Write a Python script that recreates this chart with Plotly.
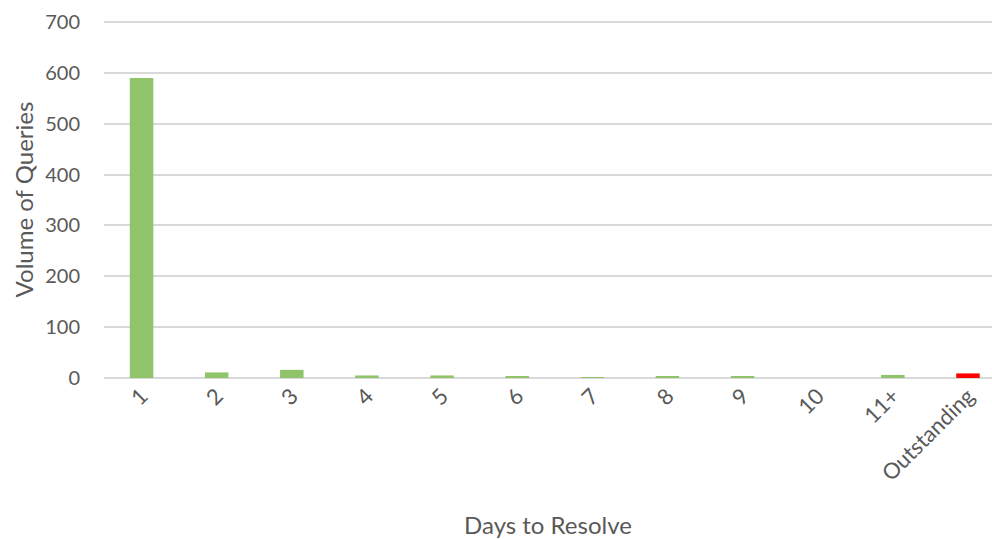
import plotly.graph_objects as go

# Days-to-resolve buckets and query counts
categories = ["1", "2", "3", "4", "5", "6", "7", "8", "9", "10", "11+", "Outstanding"]
volumes = [590, 11, 16, 5, 5, 3, 1, 2, 2, 0, 6, 9]
bar_colors = ["#8fc46a"] * 11 + ["#ff0000"]
y_ticks = [0, 100, 200, 300, 400, 500, 600, 700]

FONT = "Lato"
TEXT = "#595959"
GRID = "#d9d9d9"

fig = go.Figure(
    go.Bar(
        x=categories,
        y=volumes,
        marker=dict(color=bar_colors, line=dict(width=0)),
        hoverinfo="x+y",
    )
)

fig.update_layout(
    width=992,
    height=540,
    margin=dict(l=104, r=0, t=21, b=162),
    paper_bgcolor="white",
    plot_bgcolor="white",
    bargap=0.687,
    showlegend=False,
    font=dict(family=FONT, size=20, color=TEXT),
)

fig.update_xaxes(
    type="category",
    range=[-0.5, 11.32],
    tickangle=-45,
    tickfont=dict(family=FONT, size=22, color=TEXT),
    showgrid=False,
    showline=False,
    ticks="",
    title=dict(text="Days to Resolve", font=dict(family=FONT, size=24, color=TEXT), standoff=32),
)

fig.update_yaxes(
    range=[0, 702],
    tickvals=y_ticks,
    tickfont=dict(family=FONT, size=20, color=TEXT),
    showgrid=True,
    gridcolor=GRID,
    gridwidth=1.5,
    zeroline=True,
    zerolinecolor=GRID,
    zerolinewidth=2,
    showline=False,
    ticks="outside",
    ticklen=19,
    tickcolor="rgba(0,0,0,0)",
    title=dict(text="Volume of Queries", font=dict(family=FONT, size=24, color=TEXT), standoff=4),
)

fig.write_html("out.html")
